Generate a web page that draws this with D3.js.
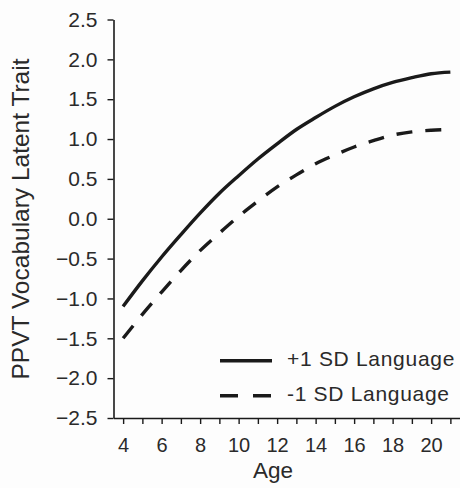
<!DOCTYPE html>
<html>
<head>
<meta charset="utf-8">
<script src="https://cdn.jsdelivr.net/npm/d3@7/dist/d3.min.js"></script>
<style>
  html, body { margin: 0; padding: 0; background: #fdfdfd; }
  svg { display: block; font-family: "Liberation Sans", Arial, Helvetica, sans-serif; }
</style>
</head>
<body>
<svg id="chart" width="460" height="488"></svg>
<script>
// Ages at which the model trajectories are plotted
const ages = [4, 5, 6, 7, 8, 9, 10, 11, 12, 13, 14, 15, 16, 17, 18, 19, 20, 21];
// Predicted latent vocabulary trait, +1 SD on language
const plusOneSD = [-1.10, -0.78, -0.48, -0.20, 0.07, 0.32, 0.54, 0.75, 0.94, 1.12, 1.27, 1.41, 1.53, 1.63, 1.71, 1.77, 1.82, 1.84];
// Predicted latent vocabulary trait, -1 SD on language
const minusOneSD = [-1.50, -1.20, -0.92, -0.65, -0.40, -0.18, 0.03, 0.22, 0.40, 0.55, 0.69, 0.80, 0.90, 0.98, 1.05, 1.09, 1.11, 1.12];
const seriesNames = ["+1 SD Language", "-1 SD Language"];
const yTicks = [-2.5, -2.0, -1.5, -1.0, -0.5, 0.0, 0.5, 1.0, 1.5, 2.0, 2.5];
const xTickLabels = [4, 6, 8, 10, 12, 14, 16, 18, 20];

const svg = d3.select("#chart");
const ink = "#1a1a1a";
const textInk = "#2a2a2a";

const x = d3.scaleLinear().domain([3.5, 21.5]).range([113.5, 460]);
const y = d3.scaleLinear().domain([-2.5, 2.5]).range([418, 19.5]);

// y axis
const yAxis = svg.append("g")
  .attr("transform", `translate(${x(3.5)},0)`)
  .call(d3.axisLeft(y).tickValues(yTicks).tickSize(6).tickSizeOuter(0).tickPadding(10)
    .tickFormat(d => d3.format(".1f")(d).replace("-", "\u2212")));
yAxis.selectAll("text").attr("font-size", 21).attr("fill", textInk).attr("font-family", null);

// x axis: a tick every year, labels on even ages
const xAxis = svg.append("g")
  .attr("transform", `translate(0,${y(-2.5)})`)
  .call(d3.axisBottom(x).tickValues(ages).tickSize(6).tickSizeOuter(0).tickPadding(14)
    .tickFormat(d => xTickLabels.includes(d) ? String(d) : ""));
xAxis.selectAll("text").attr("font-size", 20).attr("fill", textInk).attr("font-family", null);

[yAxis, xAxis].forEach(g => {
  g.select(".domain").attr("stroke", ink).attr("stroke-width", 1.6);
  g.selectAll(".tick line").attr("stroke", ink).attr("stroke-width", 1.4);
});

// axis titles
svg.append("text")
  .attr("x", 273).attr("y", 478)
  .attr("text-anchor", "middle")
  .attr("font-size", 22.5).attr("fill", textInk)
  .text("Age");

svg.append("text")
  .attr("transform", `translate(29,${219}) rotate(-90)`)
  .attr("text-anchor", "middle")
  .attr("font-size", 24.5).attr("fill", textInk)
  .text("PPVT Vocabulary Latent Trait");

// trajectories
const line = d3.line()
  .x((d, i) => x(ages[i]))
  .y(d => y(d))
  .curve(d3.curveMonotoneX);

svg.append("path")
  .datum(plusOneSD)
  .attr("d", line)
  .attr("fill", "none").attr("stroke", ink).attr("stroke-width", 3.4);

svg.append("path")
  .datum(minusOneSD)
  .attr("d", line)
  .attr("fill", "none").attr("stroke", ink).attr("stroke-width", 3.4)
  .attr("stroke-dasharray", "16,13");

// legend
const legend = svg.append("g");
const legendRows = [
  { name: seriesNames[0], y: 360.7, dash: null },
  { name: seriesNames[1], y: 395.7, dash: "18,15" }
];
legendRows.forEach(r => {
  legend.append("line")
    .attr("x1", 220).attr("x2", 272)
    .attr("y1", r.y).attr("y2", r.y)
    .attr("stroke", ink).attr("stroke-width", 3.4)
    .attr("stroke-dasharray", r.dash);
  legend.append("text")
    .attr("x", 287).attr("y", r.y + 5.5)
    .attr("font-size", 21).attr("fill", textInk)
    .attr("letter-spacing", 0.7)
    .text(r.name);
});
</script>
</body>
</html>
